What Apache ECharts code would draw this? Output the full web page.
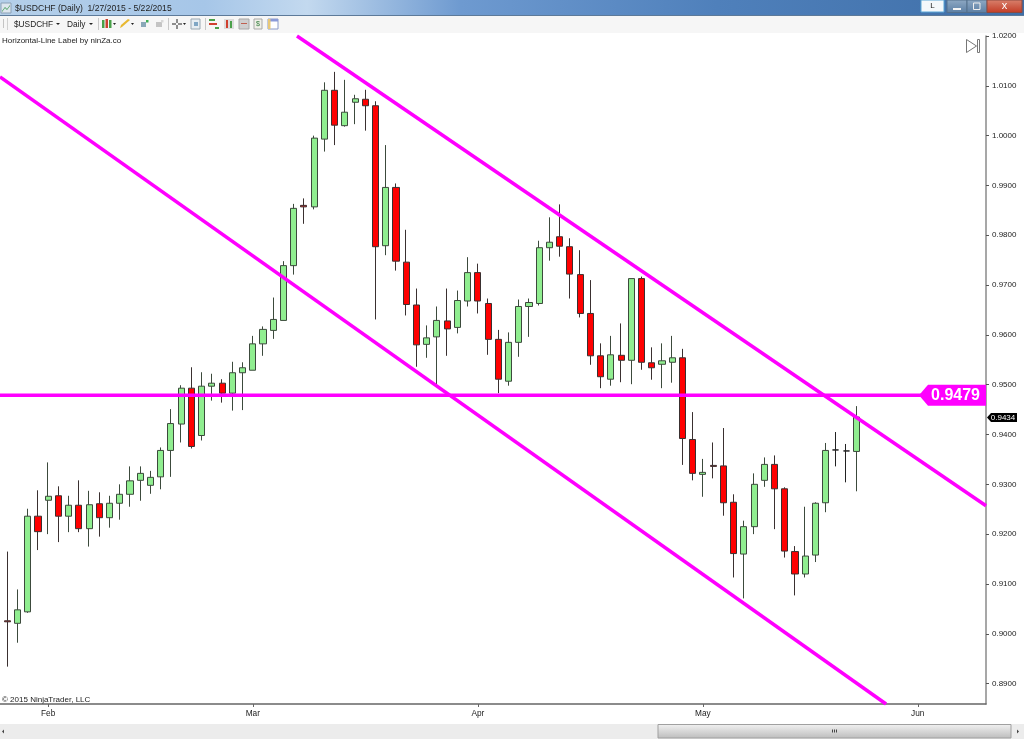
<!DOCTYPE html>
<html>
<head>
<meta charset="utf-8">
<title>$USDCHF (Daily)</title>
<style>
  html, body { margin: 0; padding: 0; background: #fff; }
  #myChart { width: 1024px; height: 739px; }
</style>
<script src="https://cdn.jsdelivr.net/npm/echarts@6/dist/echarts.min.js"></script>
</head>
<body>
<div id="myChart"></div>
<script>
// daily bars, 1/27/2015 - 5/22/2015, bar number is the x value
const opens = [0.9026,0.9021,0.9044,0.9236,0.9268,0.9277,0.9236,0.9258,0.9211,0.9261,0.9233,0.9262,
  0.9280,0.9308,0.9298,0.9315,0.9368,0.9421,0.9493,0.9398,0.9497,0.9503,0.9483,0.9524,
  0.9529,0.9582,0.9609,0.9629,0.9739,0.9860,0.9857,0.9993,1.0091,1.0020,1.0067,1.0073,
  1.0060,0.9779,0.9896,0.9746,0.9660,0.9581,0.9596,0.9628,0.9615,0.9668,0.9725,0.9663,
  0.9591,0.9507,0.9585,0.9657,0.9663,0.9775,0.9797,0.9777,0.9721,0.9643,0.9558,0.9511,
  0.9559,0.9549,0.9713,0.9544,0.9541,0.9545,0.9554,0.9390,0.9320,0.9338,0.9337,0.9264,
  0.9160,0.9215,0.9308,0.9340,0.9291,0.9165,0.9120,0.9158,0.9263,0.9369,0.9367,0.9366];
const closes = [0.9024,0.9048,0.9236,0.9205,0.9276,0.9236,0.9258,0.9211,0.9259,0.9233,0.9262,0.9280,
  0.9307,0.9322,0.9314,0.9368,0.9422,0.9493,0.9376,0.9497,0.9503,0.9483,0.9524,0.9534,
  0.9582,0.9611,0.9631,0.9739,0.9854,0.9857,0.9995,1.0091,1.0021,1.0047,1.0074,1.0060,
  0.9777,0.9896,0.9748,0.9661,0.9580,0.9594,0.9629,0.9612,0.9669,0.9725,0.9668,0.9591,
  0.9511,0.9585,0.9657,0.9665,0.9775,0.9786,0.9778,0.9722,0.9643,0.9558,0.9516,0.9560,
  0.9549,0.9713,0.9545,0.9534,0.9548,0.9554,0.9392,0.9322,0.9324,0.9336,0.9263,0.9161,
  0.9215,0.9300,0.9340,0.9291,0.9166,0.9120,0.9156,0.9262,0.9368,0.9369,0.9367,0.9435];
const lows = [0.8934,0.8982,0.9042,0.9168,0.9200,0.9184,0.9204,0.9204,0.9175,0.9195,0.9213,0.9229,
  0.9255,0.9267,0.9281,0.9290,0.9315,0.9384,0.9372,0.9388,0.9468,0.9464,0.9448,0.9449,
  0.9529,0.9558,0.9592,0.9629,0.9721,0.9823,0.9852,0.9968,0.9981,1.0018,1.0023,1.0010,
  0.9631,0.9760,0.9729,0.9639,0.9536,0.9554,0.9496,0.9558,0.9603,0.9657,0.9643,0.9560,
  0.9483,0.9498,0.9556,0.9596,0.9659,0.9749,0.9757,0.9673,0.9635,0.9540,0.9493,0.9498,
  0.9505,0.9501,0.9530,0.9510,0.9493,0.9504,0.9339,0.9308,0.9275,0.9312,0.9237,0.9113,
  0.9071,0.9200,0.9295,0.9210,0.9153,0.9077,0.9113,0.9144,0.9244,0.9336,0.9304,0.9286];
const highs = [0.9165,0.9089,0.9251,0.9288,0.9344,0.9296,0.9277,0.9308,0.9287,0.9284,0.9277,0.9300,
  0.9336,0.9336,0.9327,0.9374,0.9451,0.9499,0.9535,0.9525,0.9522,0.9511,0.9546,0.9545,
  0.9598,0.9617,0.9675,0.9748,0.9863,0.9874,1.0000,1.0107,1.0128,1.0112,1.0082,1.0092,
  1.0069,0.9981,0.9904,0.9811,0.9693,0.9619,0.9657,0.9693,0.9689,0.9756,0.9743,0.9673,
  0.9610,0.9605,0.9671,0.9673,0.9789,0.9836,0.9862,0.9794,0.9770,0.9710,0.9583,0.9598,
  0.9623,0.9713,0.9717,0.9575,0.9583,0.9598,0.9572,0.9445,0.9351,0.9384,0.9413,0.9280,
  0.9227,0.9322,0.9354,0.9358,0.9294,0.9176,0.9255,0.9264,0.9383,0.9405,0.9381,0.9457];

const priceTicks = [1.02,1.01,1.00,0.99,0.98,0.97,0.96,0.95,0.94,0.93,0.92,0.91,0.90,0.89];
const monthBars = [4,24,46,68,89];
const monthNames = ['Feb','Mar','Apr','May','Jun'];

// drawn channel and level, [bar, price]
const upperChannel = [[28.32,1.02],[95.67,0.9257]];
const lowerChannel = [[-0.71,1.0118],[85.9,0.8859]];
const levelPrice = 0.9479;
const lastPrice = 0.9434;

const xMin = -0.71, xMax = 95.67, yMin = 0.8859, yMax = 1.02;
const magenta = '#ff00ff';
const font = '"Liberation Sans", Arial, sans-serif';

let myChart = echarts.init(document.getElementById('myChart'));

// window frame bits around the plot
function box(x, y, w, h, fill, stroke) {
  return { type: 'rect', shape: { x: x, y: y, width: w, height: h }, silent: true,
    style: { fill: fill, stroke: stroke || null, lineWidth: stroke ? 1 : 0 } };
}
function txt(x, y, text, size, color, align) {
  return { type: 'text', x: x, y: y, silent: true,
    style: { text: text, fontFamily: font, fontSize: size, fill: color || '#222',
      align: align || 'left', verticalAlign: 'middle' } };
}
function poly(points, fill, stroke) {
  return { type: 'polygon', shape: { points: points }, silent: true,
    style: { fill: fill, stroke: stroke || null, lineWidth: stroke ? 1 : 0 } };
}
function grad(a, b) {
  return { type: 'linear', x: 0, y: 0, x2: 0, y2: 1, colorStops: [{ offset: 0, color: a }, { offset: 1, color: b }] };
}

const frame = [
  box(0, 0, 1024, 15, { type: 'linear', x: 0, y: 0, x2: 1, y2: 0, colorStops: [
    { offset: 0, color: '#b4cfe9' }, { offset: 0.2, color: '#a6c6e8' }, { offset: 0.3, color: '#c3d9ef' },
    { offset: 0.45, color: '#6e9ad0' }, { offset: 0.7, color: '#4f80bb' }, { offset: 1, color: '#3f6fa8' }] }),
  box(0, 15, 1024, 1, '#5d7a99'),
  box(0, 16, 1024, 17, '#f6f6f6'),
  box(1, 3, 10, 10, '#dde6ee', '#8aa0b5'),
  poly([[2, 11], [5, 7], [7, 9], [10, 5], [10, 6], [7, 10], [5, 8], [2, 12]], '#3f9a52'),
  txt(15, 8.5, '$USDCHF (Daily)  1/27/2015 - 5/22/2015', 8.6, '#222'),
  box(921, 0, 23, 12, '#f4f8fb', '#5aa6d6'),
  txt(932.5, 6, 'L', 8, '#222', 'center'),
  box(947, 0, 20, 12.5, grad('#8fa9c4', '#5b7ea3'), '#55708c'),
  box(953, 8, 8, 2, '#f4f4f4'),
  box(967, 0, 20, 12.5, grad('#8fa9c4', '#5b7ea3'), '#55708c'),
  box(973.5, 3, 6.5, 6.5, 'none', '#eeeeee'),
  box(987, 0, 35, 12.5, grad('#d9826e', '#c23a24'), '#8c4a40'),
  txt(1004.5, 6, 'x', 11, '#ffffff', 'center'),

  // toolbar
  box(3, 19, 1, 9, '#c4c4c4'),
  box(7, 18, 1, 12, '#d0d0d0'),
  txt(14, 24.5, '$USDCHF', 8.3, '#222'),
  poly([[56, 23], [60, 23], [58, 25]], '#222'),
  txt(67, 24.5, 'Daily', 8.3, '#222'),
  poly([[89, 23], [93, 23], [91, 25]], '#222'),
  box(98, 18, 1, 12, '#c8c8c8'),
  box(102, 20, 2.5, 8, '#48a048'), box(105.5, 19, 2.5, 9, '#cc4030'), box(109, 20, 2.5, 8, '#48a048'),
  poly([[113, 23], [116, 23], [114.5, 25]], '#222'),
  poly([[120, 28], [122, 27], [130, 20], [128, 19], [121, 25]], '#e8b830'),
  poly([[131, 23], [134, 23], [132.5, 25]], '#222'),
  box(141, 22, 5, 5, '#8aa8b8'), box(146, 20, 2.5, 2.5, '#3fae55'),
  box(156, 22, 6, 5, '#c4c4c4'), box(161, 20, 2.5, 2.5, '#d8d8d8'),
  box(168, 18, 1, 12, '#c8c8c8'),
  box(172, 23.5, 4, 1, '#222'), box(178, 23.5, 4, 1, '#222'), box(176.5, 19, 1, 4, '#222'), box(176.5, 25, 1, 4, '#222'),
  poly([[183, 23], [186, 23], [184.5, 25]], '#222'),
  box(191, 19, 9, 10, '#e6edf2', '#9aa8b2'), box(194, 22, 4, 4, '#7fa6c4'),
  box(205, 18, 1, 12, '#c8c8c8'),
  box(209, 19, 6, 2, '#4aa04a'), box(209, 23, 8, 2, '#d04030'), box(215, 27, 4, 2, '#4aa04a'),
  box(224, 19, 10, 10, '#dcdcdc'), box(226, 20, 2, 8, '#d04030'), box(230, 21, 2, 7, '#4aa04a'),
  box(239, 19, 10, 10, '#cfcfcf', '#a8a8a8'), box(241, 23, 6, 1, '#c06050'),
  box(254, 19, 8, 10, '#f0f0e8', '#a8a8a8'), txt(258, 24, '$', 7, '#2f7a3a', 'center'),
  box(268, 19, 10, 10, '#ffffff', '#8a9ac8'), box(268, 19, 10, 2.5, '#8a9ad8'), box(268, 19, 2.5, 10, '#e8c878'),

  // texts and play button on the plot
  txt(2, 41, 'Horizontal-Line Label by ninZa.co', 8, '#222'),
  txt(2, 700, '\u00a9 2015 NinjaTrader, LLC', 8, '#222'),
  poly([[966.5, 39.5], [976.5, 46], [966.5, 52.5]], 'none', '#777'),
  box(977.5, 39.5, 2, 13, 'none', '#777'),

  // scrollbar
  box(0, 724, 1024, 15, '#ececec'),
  box(658, 724.5, 353, 13.5, grad('#f2f2f2', '#bcbcbc'), '#a0a0a0'),
  box(832, 729.5, 1, 3, '#444'), box(834, 729.5, 1, 3, '#444'), box(836, 729.5, 1, 3, '#444'),
  poly([[4, 729.5], [4, 733.5], [2, 731.5]], '#444'),
  poly([[1017, 729.5], [1017, 733.5], [1019, 731.5]], '#444')
];

const bars = opens.map((o, i) => [i, o, closes[i], lows[i], highs[i]]);

myChart.setOption({
  animation: false,
  backgroundColor: '#ffffff',
  textStyle: { fontFamily: font },
  grid: { left: 0, right: 38, top: 36, bottom: 35 },
  graphic: { elements: frame },
  xAxis: {
    type: 'value',
    min: xMin,
    max: xMax,
    axisLine: { show: true, onZero: false, lineStyle: { color: '#666666', width: 1.5 } },
    axisTick: { show: true, length: 3, customValues: monthBars, lineStyle: { color: '#666666' } },
    axisLabel: {
      customValues: monthBars,
      margin: 6,
      fontSize: 8.3,
      fontFamily: font,
      color: '#222222',
      formatter: (v) => monthNames[monthBars.indexOf(v)]
    },
    splitLine: { show: false }
  },
  yAxis: {
    type: 'value',
    position: 'right',
    min: yMin,
    max: yMax,
    axisLine: { show: true, onZero: false, lineStyle: { color: '#8a8a8a', width: 1.5 } },
    axisTick: { show: true, length: 3, customValues: priceTicks, lineStyle: { color: '#555555' } },
    axisLabel: {
      customValues: priceTicks,
      margin: 6,
      fontSize: 8,
      fontFamily: font,
      color: '#222222',
      formatter: (v) => v.toFixed(4)
    },
    splitLine: { show: false }
  },
  series: [
    {
      name: '$USDCHF',
      type: 'candlestick',
      data: bars,
      barWidth: 6.6,
      itemStyle: {
        color: '#90ee90',
        color0: '#ff0000',
        borderColor: '#3c4a3c',
        borderColor0: '#3a3030',
        borderColorDoji: '#222222',
        borderWidth: 1
      },
      z: 2
    },
    {
      type: 'line',
      data: upperChannel,
      showSymbol: false,
      lineStyle: { color: magenta, width: 3.5 },
      z: 3
    },
    {
      type: 'line',
      data: lowerChannel,
      showSymbol: false,
      lineStyle: { color: magenta, width: 3.5 },
      z: 3
    },
    {
      type: 'line',
      data: [[xMin, levelPrice], [xMax, levelPrice]],
      showSymbol: false,
      lineStyle: { color: magenta, width: 3.5 },
      z: 3,
      markPoint: {
        silent: true,
        data: [
          {
            coord: [xMax, levelPrice],
            symbol: 'path://M0 10 L9 0 L67 0 L67 20 L9 20 Z',
            symbolSize: [67, 21],
            symbolOffset: [-33.5, 0],
            itemStyle: { color: magenta },
            label: {
              show: true, position: 'inside', offset: [3, 0],
              formatter: levelPrice.toFixed(4),
              color: '#ffffff', fontWeight: 'bold', fontSize: 16, fontFamily: font
            }
          },
          {
            coord: [xMax, lastPrice],
            symbol: 'path://M0 5 L4 0 L30 0 L30 10 L4 10 Z',
            symbolSize: [30, 9],
            symbolOffset: [16, 0],
            itemStyle: { color: '#000000' },
            label: {
              show: true, position: 'inside', offset: [1, 0],
              formatter: lastPrice.toFixed(4),
              color: '#ffffff', fontSize: 8, fontFamily: font
            }
          }
        ]
      }
    }
  ]
});
</script>
</body>
</html>
